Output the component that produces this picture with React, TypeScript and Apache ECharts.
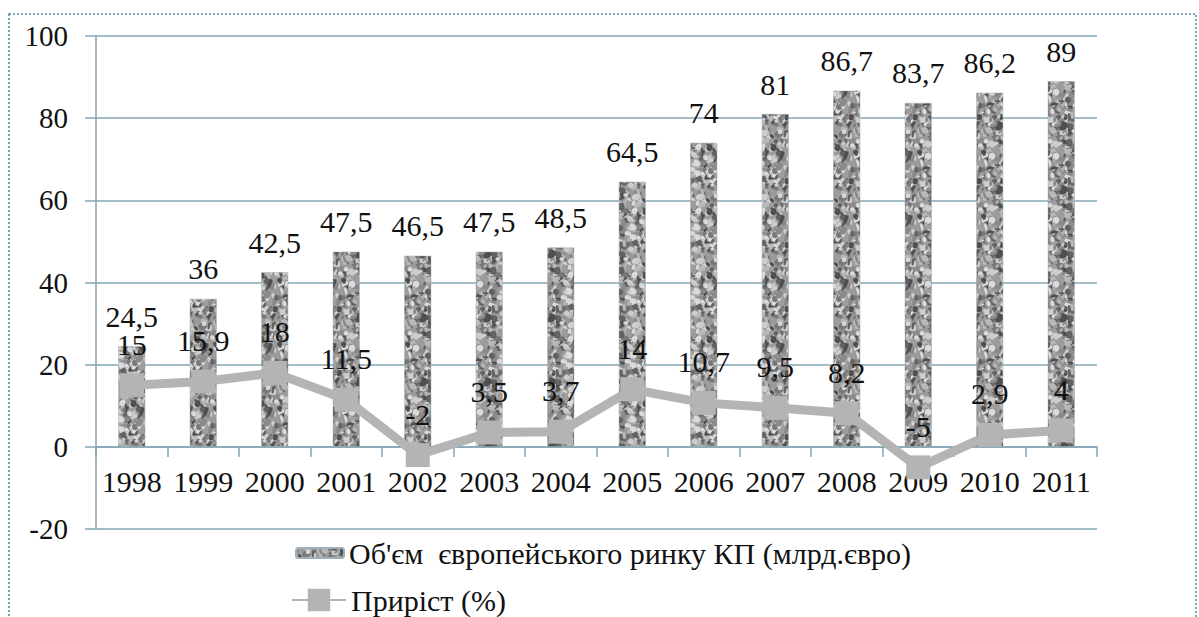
import React, { useEffect, useRef } from "react";
import * as echarts from "echarts";

const years = ["1998", "1999", "2000", "2001", "2002", "2003", "2004", "2005", "2006", "2007", "2008", "2009", "2010", "2011"];
const volume = [24.5, 36, 42.5, 47.5, 46.5, 47.5, 48.5, 64.5, 74, 81, 86.7, 83.7, 86.2, 89];
const growth = [15, 15.9, 18, 11.5, -2, 3.5, 3.7, 14, 10.7, 9.5, 8.2, -5, 2.9, 4];
const yTicks = { min: -20, max: 100, interval: 20 };
const volumeName = "Об'єм  європейського ринку КП (млрд.євро)";
const growthName = "Приріст (%)";

const FONT = "Liberation Serif";
const GRID_COLOR = "#84a6b6";

function makeGranite(): HTMLCanvasElement {
  const size = 64;
  const c = document.createElement("canvas");
  c.width = size;
  c.height = size;
  const ctx = c.getContext("2d")!;
  ctx.fillStyle = "#9c9c9c";
  ctx.fillRect(0, 0, size, size);
  // deterministic texture generator (style only, not data)
  let seed = 12345;
  const rnd = () => {
    seed = (seed * 1103515245 + 12345) & 0x7fffffff;
    return seed / 0x7fffffff;
  };
  const shades = ["#4e4e4e", "#626262", "#777777", "#8a8a8a", "#b8b8b8", "#cdcdcd", "#dadada"];
  for (let i = 0; i < 300; i++) {
    const x = rnd() * size;
    const y = rnd() * size;
    const rx = 1 + rnd() * 3;
    const ry = 1 + rnd() * 2.5;
    ctx.fillStyle = shades[Math.floor(rnd() * shades.length)];
    for (const dx of [-size, 0, size]) {
      for (const dy of [-size, 0, size]) {
        ctx.beginPath();
        ctx.ellipse(x + dx, y + dy, rx, ry, rnd() * Math.PI, 0, Math.PI * 2);
        ctx.fill();
      }
    }
  }
  return c;
}

const fmt = (p: any) => String(p.value).replace(".", ",");

export default function App() {
  const ref = useRef<HTMLDivElement>(null);
  useEffect(() => {
    if (!ref.current) return;
    const chart = echarts.init(ref.current, null, { renderer: "svg" });
    const granite = makeGranite();
    const pattern: any = { image: granite, repeat: "repeat", imageWidth: 64, imageHeight: 64 };
    chart.setOption({
      animation: false,
      backgroundColor: "#ffffff",
      textStyle: { fontFamily: FONT },
      graphic: [
        {
          type: "rect",
          shape: { x: 9, y: 14, width: 1187, height: 700 },
          style: { fill: "none", stroke: "#7aa3b8", lineWidth: 2, lineDash: [2, 2] },
          silent: true,
          z: -10,
        },
      ],
      grid: { left: 96, right: 102, top: 36, bottom: 88 },
      legend: [
        {
          data: [volumeName],
          orient: "vertical",
          left: 290,
          top: 533,
          itemWidth: 48,
          itemHeight: 10,
          itemGap: 5,
          textStyle: { fontSize: 30, color: "#111", fontFamily: FONT },
        },
        {
          data: [growthName],
          orient: "vertical",
          left: 286,
          top: 580,
          itemWidth: 54,
          itemHeight: 28,
          textStyle: { fontSize: 30, color: "#111", fontFamily: FONT },
        },
      ],
      xAxis: {
        type: "category",
        data: years,
        position: "bottom",
        offset: -82,
        axisLine: { onZero: false, lineStyle: { color: GRID_COLOR, width: 1.5 } },
        axisTick: { show: true, length: 10, lineStyle: { color: GRID_COLOR, width: 1.5 } },
        axisLabel: { interval: 0, fontSize: 30, color: "#111", margin: 19, fontFamily: FONT },
      },
      yAxis: {
        type: "value",
        min: yTicks.min,
        max: yTicks.max,
        interval: yTicks.interval,
        axisLine: { show: true, lineStyle: { color: GRID_COLOR, width: 1.5 } },
        axisTick: { show: true, length: 11, lineStyle: { color: GRID_COLOR, width: 1.5 } },
        axisLabel: { fontSize: 29, color: "#111", margin: 28, fontFamily: FONT },
        splitLine: { show: true, lineStyle: { color: GRID_COLOR, width: 1.5 } },
      },
      series: [
        {
          name: volumeName,
          type: "bar",
          data: volume,
          barWidth: 27,
          itemStyle: { color: pattern, borderColor: "#9fb0b8", borderWidth: 0.5 },
          label: {
            show: true,
            position: "top",
            distance: 15,
            fontSize: 30,
            color: "#111",
            fontFamily: FONT,
            formatter: fmt,
          },
          z: 2,
        },
        {
          name: growthName,
          type: "line",
          data: growth,
          symbol: "rect",
          symbolSize: 24,
          lineStyle: { color: "#b4b4b4", width: 9 },
          itemStyle: { color: "#b4b4b4" },
          label: {
            show: true,
            position: "top",
            distance: 14,
            fontSize: 30,
            color: "#111",
            fontFamily: FONT,
            formatter: fmt,
          },
          z: 3,
        },
      ],
    });
    return () => chart.dispose();
  }, []);
  return (
    <div
      ref={ref}
      style={{ position: "fixed", left: 0, top: 0, width: 1199, height: 617 }}
    />
  );
}
